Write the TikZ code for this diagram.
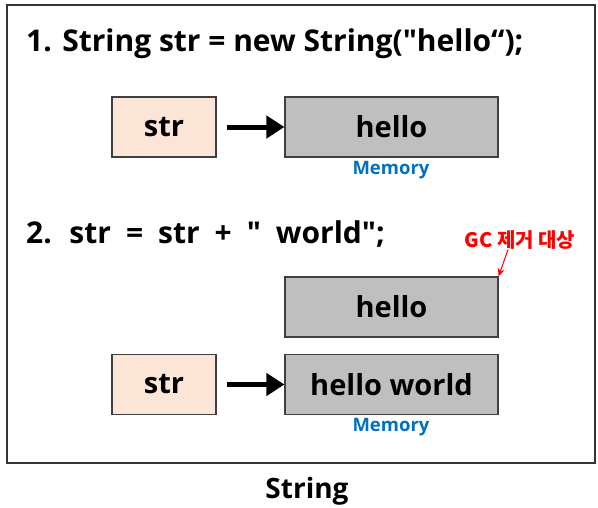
\documentclass[tikz,border=0pt]{standalone}
\usepackage{fontspec}
\setmainfont{Open Sans}
\newfontfamily\codefont{Open Sans}
\newfontfamily\krfont{Noto Sans CJK KR}
\usetikzlibrary{arrows.meta,positioning}
\definecolor{boxgray}{HTML}{BFBFBF}
\definecolor{varpeach}{HTML}{FBE5D6}
\definecolor{memblue}{HTML}{0070C0}

\begin{document}
\begin{tikzpicture}[x=1pt,y=-1pt,
	varbox/.style={draw=black!75, line width=1.2pt, fill=varpeach, minimum width=104pt, minimum height=60pt, inner sep=0pt, font=\fontsize{29}{32}\selectfont\bfseries},
	membox/.style={draw=black!75, line width=1.2pt, fill=boxgray, minimum width=213pt, minimum height=60pt, inner sep=0pt, font=\fontsize{29}{32}\selectfont\bfseries},
	ptr/.style={line width=5pt, -{Triangle[length=18pt,width=22pt]}, shorten <=10pt},
	memlabel/.style={text=memblue, inner sep=0pt, font=\fontsize{18.5}{20}\selectfont\bfseries},
	codeline/.style={anchor=base west, inner sep=0pt, font=\codefont\fontsize{30}{34}\selectfont\bfseries}]
	\useasboundingbox (0,0) rectangle (598,507);
	\draw[line width=1.5pt, draw=black!80] (7,5) rectangle (595,463);
	% step 1
	\node[codeline] (code1) at (26,51) {1. String str = new String("hello“);};
	\node[varbox] (var1) at (164,127) {str};
	\node[membox] (mem1) at (391.5,127) {hello};
	\node[memlabel] (memtxt1) at (391,170) {Memory};
	\draw[ptr] (var1) -- (mem1);
	% step 2
	\node[codeline] (code2) at (26,243) {\spaceskip=15pt\relax 2. str = str + " world";};
	\node[membox] (mem2) at (391.5,307) {hello};
	\node[varbox] (var2) at (164,384.5) {str};
	\node[membox] (mem3) at (391.5,384.5) {hello world};
	\node[memlabel] (memtxt2) at (391,427) {Memory};
	\draw[ptr] (var2) -- (mem3);
	\node[text=red, inner sep=0pt, font=\krfont\fontsize{20}{22}\selectfont\bfseries] (gc) at (520,240) {GC 제거 대상};
	\draw[red, line width=1pt, -{Stealth[length=8pt,width=7pt]}] ([xshift=-12pt]gc.south) -- (mem2.north east);
	% caption
	\node[anchor=base, font=\fontsize{28}{30}\selectfont\bfseries, inner sep=0pt] (caption) at (307,498) {String};
\end{tikzpicture}
\end{document}
